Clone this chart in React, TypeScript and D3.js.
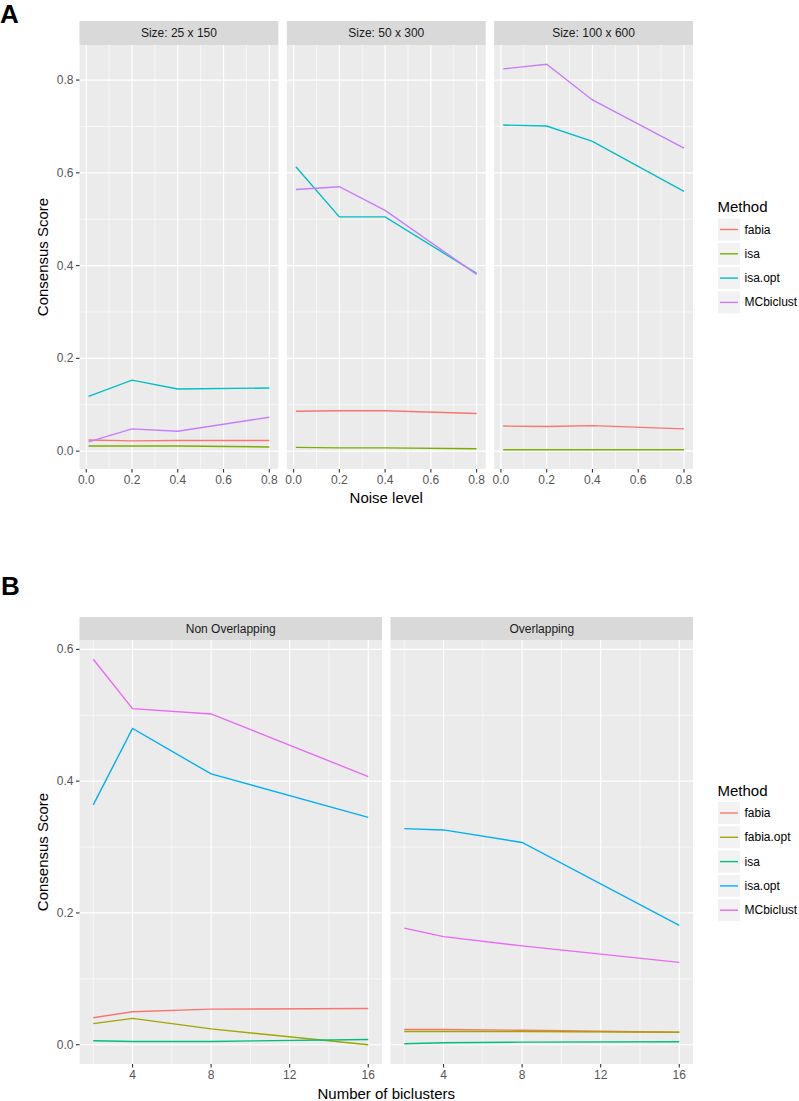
import React from "react";
import * as d3 from "d3";

// ---------- Data: panel A ----------
const noiseLevels = [0.01, 0.2, 0.4, 0.8];
const sizeFacets = ["Size: 25 x 150", "Size: 50 x 300", "Size: 100 x 600"];
const methodsA = ["fabia", "isa", "isa.opt", "MCbiclust"];
const colorsA = ["#F8766D", "#7CAE00", "#00BFC4", "#C77CFF"];
// values per facet (rows) per noise level (cols)
const fabiaA = [[0.024, 0.022, 0.023, 0.023], [0.086, 0.087, 0.087, 0.081], [0.054, 0.053, 0.055, 0.048]];
const isaA = [[0.011, 0.011, 0.011, 0.009], [0.008, 0.007, 0.007, 0.005], [0.003, 0.003, 0.003, 0.003]];
const isaOptA = [[0.118, 0.153, 0.134, 0.136], [0.613, 0.505, 0.505, 0.383], [0.703, 0.701, 0.668, 0.560]];
const mcbiclustA = [[0.020, 0.048, 0.043, 0.073], [0.564, 0.570, 0.519, 0.381], [0.824, 0.834, 0.757, 0.653]];
const seriesA = [fabiaA, isaA, isaOptA, mcbiclustA];
const xTicksA = [0, 0.2, 0.4, 0.6, 0.8];
const xMinorA = [0.1, 0.3, 0.5, 0.7];
const yTicksA = [0, 0.2, 0.4, 0.6, 0.8];
const yMinorA = [0.1, 0.3, 0.5, 0.7];

// ---------- Data: panel B ----------
const biclusterCounts = [2, 4, 8, 16];
const overlapFacets = ["Non Overlapping", "Overlapping"];
const methodsB = ["fabia", "fabia.opt", "isa", "isa.opt", "MCbiclust"];
const colorsB = ["#F8766D", "#A3A500", "#00BF7D", "#00B0F6", "#E76BF3"];
const fabiaB = [[0.041, 0.050, 0.054, 0.055], [0.023, 0.023, 0.022, 0.019]];
const fabiaOptB = [[0.032, 0.040, 0.024, 0.000], [0.020, 0.020, 0.020, 0.019]];
const isaB = [[0.006, 0.005, 0.005, 0.008], [0.0015, 0.003, 0.004, 0.0045]];
const isaOptB = [[0.364, 0.480, 0.411, 0.345], [0.328, 0.326, 0.307, 0.181]];
const mcbiclustB = [[0.585, 0.510, 0.502, 0.407], [0.177, 0.164, 0.150, 0.125]];
const seriesB = [fabiaB, fabiaOptB, isaB, isaOptB, mcbiclustB];
const xTicksB = [4, 8, 12, 16];
const xMinorB = [2, 6, 10, 14];
const yTicksB = [0, 0.2, 0.4, 0.6];
const yMinorB = [0.1, 0.3, 0.5];

const FONT = "'Liberation Sans', Arial, Helvetica, sans-serif";

function expand(vals: number[]): [number, number] {
  const lo = d3.min(vals) as number;
  const hi = d3.max(vals) as number;
  const e = (hi - lo) * 0.05;
  return [lo - e, hi + e];
}

type FacetProps = {
  title: string;
  left: number;
  width: number;
  stripTop: number;
  panelTop: number;
  panelBottom: number;
  xDomain: [number, number];
  yDomain: [number, number];
  xs: number[];
  series: number[][];
  colors: string[];
  xTicks: number[];
  xMinor: number[];
  yTicks: number[];
  yMinor: number[];
  xFmt: (v: number) => string;
  showY: boolean;
  yFmt: (v: number) => string;
};

function Facet(p: FacetProps) {
  const x = d3.scaleLinear().domain(p.xDomain).range([p.left, p.left + p.width]);
  const y = d3.scaleLinear().domain(p.yDomain).range([p.panelBottom, p.panelTop]);
  const line = d3
    .line<[number, number]>()
    .x((d) => x(d[0]))
    .y((d) => y(d[1]));
  return (
    <g>
      <rect x={p.left} y={p.stripTop} width={p.width} height={p.panelTop - p.stripTop} fill="#D9D9D9" />
      <text
        x={p.left + p.width / 2}
        y={(p.stripTop + p.panelTop) / 2}
        textAnchor="middle"
        dominantBaseline="central"
        fontSize={12}
        fill="#1A1A1A"
      >
        {p.title}
      </text>
      <rect x={p.left} y={p.panelTop} width={p.width} height={p.panelBottom - p.panelTop} fill="#EBEBEB" />
      {p.yMinor.map((v) => (
        <line key={"ym" + v} x1={p.left} x2={p.left + p.width} y1={y(v)} y2={y(v)} stroke="#fff" strokeWidth={0.6} />
      ))}
      {p.xMinor.map((v) => (
        <line key={"xm" + v} x1={x(v)} x2={x(v)} y1={p.panelTop} y2={p.panelBottom} stroke="#fff" strokeWidth={0.6} />
      ))}
      {p.yTicks.map((v) => (
        <line key={"yM" + v} x1={p.left} x2={p.left + p.width} y1={y(v)} y2={y(v)} stroke="#fff" strokeWidth={1.2} />
      ))}
      {p.xTicks.map((v) => (
        <line key={"xM" + v} x1={x(v)} x2={x(v)} y1={p.panelTop} y2={p.panelBottom} stroke="#fff" strokeWidth={1.2} />
      ))}
      {p.series.map((vals, i) => (
        <path
          key={"s" + i}
          d={line(p.xs.map((xv, j) => [xv, vals[j]] as [number, number])) || ""}
          fill="none"
          stroke={p.colors[i]}
          strokeWidth={1.4}
        />
      ))}
      {p.xTicks.map((v) => (
        <g key={"xt" + v}>
          <line x1={x(v)} x2={x(v)} y1={p.panelBottom} y2={p.panelBottom + 3.5} stroke="#333" strokeWidth={1.1} />
          <text
            x={x(v)}
            y={p.panelBottom + 11}
            textAnchor="middle"
            dominantBaseline="central"
            fontSize={12}
            fill="#555"
          >
            {p.xFmt(v)}
          </text>
        </g>
      ))}
      {p.showY &&
        p.yTicks.map((v) => (
          <g key={"yt" + v}>
            <line x1={p.left - 3.5} x2={p.left} y1={y(v)} y2={y(v)} stroke="#333" strokeWidth={1.1} />
            <text
              x={p.left - 6}
              y={y(v)}
              textAnchor="end"
              dominantBaseline="central"
              fontSize={12}
              fill="#555"
            >
              {p.yFmt(v)}
            </text>
          </g>
        ))}
    </g>
  );
}

function Legend({ x, titleY, keyTop, labels, colors }: { x: number; titleY: number; keyTop: number; labels: string[]; colors: string[] }) {
  const k = 23;
  const step = 24.3;
  return (
    <g>
      <text x={x} y={titleY} fontSize={15} fill="#000">
        Method
      </text>
      {labels.map((lab, i) => {
        const top = keyTop + i * step;
        return (
          <g key={lab}>
            <rect x={x} y={top} width={k} height={k} fill="#F2F2F2" stroke="#fff" strokeWidth={1} />
            <line x1={x + 2.5} x2={x + k - 2.5} y1={top + k / 2} y2={top + k / 2} stroke={colors[i]} strokeWidth={1.4} />
            <text x={x + k + 4} y={top + k / 2} dominantBaseline="central" fontSize={12} fill="#000">
              {lab}
            </text>
          </g>
        );
      })}
    </g>
  );
}

export default function App() {
  const panelLeft = 79.5;
  const panelRight = 693;
  const gap = 8.5;

  // Panel A layout
  const nA = sizeFacets.length;
  const wA = (panelRight - panelLeft - gap * (nA - 1)) / nA;
  const allA = seriesA.flat(2);
  const yDomA = expand(allA);
  const xDomA = expand(noiseLevels);
  const aStripTop = 21;
  const aPanelTop = 45;
  const aPanelBottom = 469;

  // Panel B layout
  const nB = overlapFacets.length;
  const wB = (panelRight - panelLeft - gap * (nB - 1)) / nB;
  const allB = seriesB.flat(2);
  const yDomB = expand(allB);
  const xDomB = expand(biclusterCounts);
  const bStripTop = 617;
  const bPanelTop = 640;
  const bPanelBottom = 1064;

  const fmt1 = d3.format(".1f");
  const fmtInt = d3.format("d");

  return (
    <svg
      width={799}
      height={1101}
      style={{ position: "absolute", left: 0, top: 0, background: "#fff", fontFamily: FONT }}
    >
      <rect x={0} y={0} width={799} height={1101} fill="#fff" />
      {/* Panel A */}
      <text x={0} y={23} fontSize={26} fontWeight="bold" fill="#000">
        A
      </text>
      {sizeFacets.map((title, fi) => (
        <Facet
          key={title}
          title={title}
          left={panelLeft + fi * (wA + gap)}
          width={wA}
          stripTop={aStripTop}
          panelTop={aPanelTop}
          panelBottom={aPanelBottom}
          xDomain={xDomA}
          yDomain={yDomA}
          xs={noiseLevels}
          series={seriesA.map((s) => s[fi])}
          colors={colorsA}
          xTicks={xTicksA}
          xMinor={xMinorA}
          yTicks={yTicksA}
          yMinor={yMinorA}
          xFmt={fmt1}
          showY={fi === 0}
          yFmt={fmt1}
        />
      ))}
      <text x={(panelLeft + panelRight) / 2} y={503} textAnchor="middle" fontSize={15} fill="#000">
        Noise level
      </text>
      <text
        transform={`translate(42,${(aPanelTop + aPanelBottom) / 2}) rotate(-90)`}
        textAnchor="middle"
        dominantBaseline="central"
        fontSize={15}
        fill="#000"
      >
        Consensus Score
      </text>
      <Legend x={717.5} titleY={212} keyTop={218} labels={methodsA} colors={colorsA} />

      {/* Panel B */}
      <text x={1} y={595} fontSize={26} fontWeight="bold" fill="#000">
        B
      </text>
      {overlapFacets.map((title, fi) => (
        <Facet
          key={title}
          title={title}
          left={panelLeft + fi * (wB + gap)}
          width={wB}
          stripTop={bStripTop}
          panelTop={bPanelTop}
          panelBottom={bPanelBottom}
          xDomain={xDomB}
          yDomain={yDomB}
          xs={biclusterCounts}
          series={seriesB.map((s) => s[fi])}
          colors={colorsB}
          xTicks={xTicksB}
          xMinor={xMinorB}
          yTicks={yTicksB}
          yMinor={yMinorB}
          xFmt={fmtInt}
          showY={fi === 0}
          yFmt={fmt1}
        />
      ))}
      <text x={(panelLeft + panelRight) / 2} y={1099} textAnchor="middle" fontSize={15} fill="#000">
        Number of biclusters
      </text>
      <text
        transform={`translate(42,${(bPanelTop + bPanelBottom) / 2}) rotate(-90)`}
        textAnchor="middle"
        dominantBaseline="central"
        fontSize={15}
        fill="#000"
      >
        Consensus Score
      </text>
      <Legend x={717.5} titleY={796} keyTop={801.5} labels={methodsB} colors={colorsB} />
    </svg>
  );
}
